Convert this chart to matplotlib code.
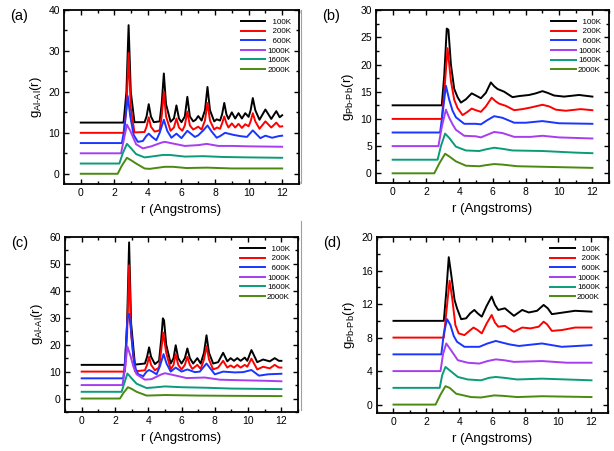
import matplotlib
matplotlib.use('Agg')
import matplotlib.pyplot as plt
from matplotlib.lines import Line2D
from matplotlib.ticker import MultipleLocator

plt.rcParams['font.family'] = ['Liberation Sans', 'DejaVu Sans']
plt.rcParams['mathtext.fontset'] = 'custom'
plt.rcParams['mathtext.rm'] = 'Liberation Sans'
plt.rcParams['mathtext.it'] = 'Liberation Sans:italic'

# Temperatures and colours
temps = ['100K', '200K', '600K', '1000K', '1600K', '2000K']
colors = ['#000000', '#ff0000', '#1a35ff', '#a83cf0', '#0a9c78', '#4a8a10']

# (a) Al-Al, values as plotted (offset curves), pairs of (r, g)
a_100 = [(0,12.5),(2.55,12.5),(2.72,20),(2.85,36.3),(2.98,20),(3.2,12.6),(3.8,12.6),(3.92,14),(4.05,17),(4.18,14),
         (4.35,12.6),(4.7,12.8),(4.82,17),(4.95,24.5),(5.08,17),(5.35,12.7),(5.55,13.5),(5.7,16.7),(5.85,13.5),(6.0,12.6),
         (6.2,14),(6.35,18.8),(6.5,14),(6.7,12.8),(6.85,13.2),(7.0,14.1),(7.2,13),(7.4,15.5),(7.55,21.2),(7.7,15.5),
         (7.95,12.8),(8.1,13.3),(8.3,13),(8.42,14.5),(8.55,17.3),(8.68,14.5),(8.8,13.4),(9.0,15),(9.2,13.5),(9.4,14.8),
         (9.6,13.5),(9.8,14.8),(10.0,13.9),(10.12,15.5),(10.25,18.5),(10.4,15.5),(10.65,13.2),(11.0,15.7),(11.35,13.4),
         (11.65,15.3),(11.85,13.8),(12,14.3)]
a_200 = [(0,10),(2.55,10),(2.72,16),(2.85,29.5),(2.98,16),(3.2,10.1),(3.8,10.2),(3.92,11.5),(4.05,13.8),(4.18,11.5),
         (4.4,10.3),(4.7,10.6),(4.82,14),(4.95,20),(5.08,14),(5.35,10.5),(5.55,11.3),(5.7,13.5),(5.85,11.3),(6.05,10.5),
         (6.2,11.8),(6.35,15.2),(6.5,11.8),(6.7,10.8),(7.0,11.5),(7.2,10.8),(7.4,13),(7.55,17.3),(7.7,13),(7.95,10.8),
         (8.1,11.3),(8.3,11),(8.42,12.3),(8.55,14),(8.68,12.3),(8.8,11.3),(9.0,12.3),(9.2,11.3),(9.4,12.2),(9.6,11.2),
         (9.8,12.1),(10.0,11.6),(10.12,12.8),(10.25,14.8),(10.4,12.8),(10.65,11),(11.0,12.8),(11.35,11.3),(11.65,12.5),
         (11.85,11.5),(12,11.6)]
a_600 = [(0,7.5),(2.45,7.5),(2.6,11),(2.8,19),(2.95,14),(3.15,9.5),(3.4,7.8),(3.7,8),(3.9,9.2),(4.05,9.8),(4.25,9),
         (4.5,8.2),(4.7,10),(4.95,13.2),(5.15,10.5),(5.4,8.8),(5.7,9.8),(6.0,8.7),(6.35,10.5),(6.8,9),(7.0,9.4),(7.3,10.6),
         (7.55,11.8),(7.8,10.3),(8.1,8.8),(8.3,9.2),(8.6,10),(9.1,9.5),(9.5,9.2),(9.9,9),(10.25,10.6),(10.7,8.7),(11.0,9.3),
         (11.4,8.8),(11.8,9.2),(12,9.3)]
a_1000 = [(0,5),(2.4,5),(2.55,8),(2.75,12),(2.95,10.5),(3.3,7.2),(3.7,6.2),(4.2,6.7),(4.8,7.6),(5.0,7.8),(5.6,7.3),
          (6.2,6.8),(7.0,7),(7.5,7.3),(8.2,6.8),(9,6.8),(10,6.7),(12,6.6)]
a_1600 = [(0,2.5),(2.3,2.5),(2.5,5),(2.75,7.3),(3.0,6.2),(3.3,4.8),(3.8,4),(4.2,4.2),(4.9,4.6),(5.3,4.6),(6.2,4.2),
          (7.3,4.3),(8.5,4.1),(10,4),(12,3.9)]
a_2000 = [(0,0),(2.2,0),(2.45,2),(2.75,3.9),(3.0,3.3),(3.3,2.5),(3.8,1.3),(4.1,1.2),(5.0,1.7),(5.5,1.7),(6.3,1.4),
          (7.5,1.5),(9,1.3),(12,1.3)]

# (b) Pb-Pb
b_100 = [(0,12.5),(2.95,12.5),(3.1,18),(3.25,26.6),(3.35,26.4),(3.5,20),(3.7,15.5),(3.9,14),(4.1,13),(4.4,13.6),
         (4.75,14.7),(5.0,14.3),(5.3,13.8),(5.6,14.8),(5.9,16.7),(6.1,16),(6.3,15.5),(6.7,15),(7.2,14),(7.6,14.2),
         (8.2,14.4),(8.6,14.7),(9.0,15.1),(9.3,14.8),(9.7,14.3),(10.3,14.1),(11.2,14.4),(12,14.1)]
b_200 = [(0,10),(2.95,10),(3.1,15),(3.3,23),(3.5,17),(3.7,13.5),(3.9,12),(4.2,10.7),(4.45,11.2),(4.75,11.9),(5.0,11.6),
         (5.3,11.3),(5.6,12.3),(5.95,13.9),(6.2,13.2),(6.4,12.8),(6.8,12.4),(7.3,11.6),(7.8,11.8),(8.3,12.1),(9.0,12.6),
         (9.4,12.3),(9.8,11.7),(10.4,11.5),(11.3,11.8),(12,11.6)]
b_600 = [(0,7.5),(2.85,7.5),(3.0,11),(3.2,16.1),(3.4,13.5),(3.6,11.5),(3.8,10.3),(4.3,9.1),(5.0,9.1),(5.3,9),(5.7,9.8),
         (6.1,10.5),(6.6,10.2),(7.3,9.3),(8,9.3),(9.0,9.6),(10,9.2),(12,9.1)]
b_1000 = [(0,5),(2.75,5),(2.95,8.5),(3.2,11.7),(3.4,10.2),(3.6,9),(3.8,8),(4.3,6.9),(5,6.8),(5.3,6.6),(5.7,7.1),
          (6.1,7.6),(6.6,7.4),(7.3,6.7),(8.3,6.7),(9,6.9),(10,6.6),(12,6.4)]
b_1600 = [(0,2.5),(2.7,2.5),(2.9,5),(3.15,7.3),(3.4,6.5),(3.8,4.9),(4.4,4.2),(5.2,4.1),(5.6,4.4),(6.1,4.7),(6.6,4.5),
          (7.2,4.2),(9,4.1),(11,3.8),(12,3.7)]
b_2000 = [(0,0),(2.5,0),(2.8,1.8),(3.15,3.6),(3.4,3.1),(3.8,2.2),(4.4,1.4),(5.2,1.3),(5.6,1.5),(6.1,1.7),(6.6,1.6),
          (7.5,1.3),(9,1.2),(12,1.0)]

# (c) Al-Al
c_100 = [(0,12.5),(2.6,12.5),(2.73,28),(2.85,58),(2.97,28),(3.2,12.6),(3.8,13),(3.93,15.5),(4.05,19),(4.17,15.5),
         (4.4,12.8),(4.65,14),(4.78,22),(4.88,29.8),(4.95,29),(5.08,20),(5.35,13),(5.52,15),(5.65,19.8),(5.8,15),
         (6.0,13),(6.2,15),(6.35,18.6),(6.5,15),(6.7,13),(6.95,15),(7.15,13),(7.35,17),(7.5,23.5),(7.65,17),(7.9,13),
         (8.2,13.5),(8.5,17),(8.75,13.8),(8.95,15),(9.15,14),(9.35,15),(9.55,14),(9.8,15.2),(9.95,14),(10.2,18),
         (10.55,13.5),(10.9,14.5),(11.3,13.8),(11.6,15),(11.85,14),(12,14)]
c_200 = [(0,10),(2.6,10),(2.73,24),(2.85,49.5),(2.97,24),(3.2,10.1),(3.8,10.5),(3.93,12.5),(4.05,15.5),(4.17,12.5),
         (4.4,10.5),(4.65,11.5),(4.78,18),(4.9,24.5),(5.08,17),(5.35,10.8),(5.52,12.5),(5.65,16.5),(5.8,12.5),(6.0,10.8),
         (6.2,12.5),(6.35,15.5),(6.5,12.5),(6.65,11),(6.95,12.5),(7.15,11),(7.35,14.5),(7.5,19.5),(7.65,14.5),(7.9,10.8),
         (8.2,11.5),(8.5,14),(8.75,11.5),(8.95,12.3),(9.15,11.5),(9.35,12.5),(9.55,11.5),(9.8,12.5),(9.95,11.8),(10.2,14.8),
         (10.55,10.8),(10.9,11.8),(11.3,11.2),(11.6,12.5),(11.85,11.5),(12,11.5)]
c_600 = [(0,7.5),(2.5,7.5),(2.62,15),(2.75,30),(2.85,31.5),(2.97,25),(3.1,16),(3.25,11),(3.4,9),(3.7,8.3),(3.9,10),
         (4.05,10.6),(4.25,10),(4.5,9),(4.7,12),(4.92,16.5),(5.1,13),(5.35,10),(5.65,11.5),(6.0,10),(6.35,10.8),(6.8,9.8),
         (7.1,10),(7.3,11.5),(7.5,13),(7.75,11),(8.0,9),(8.5,10),(9.2,9.7),(9.7,9.8),(10.2,10.6),(10.65,8.5),(11.2,9),
         (12,9.2)]
c_1000 = [(0,5),(2.45,5),(2.58,10),(2.75,19.3),(2.95,15.5),(3.1,12),(3.3,9),(3.8,7),(4.2,7.2),(4.8,9),(5.0,9.4),
          (5.6,8.6),(6.3,7.6),(7.4,7.8),(8.3,7),(9.5,6.8),(11,6.6),(12,6.4)]
c_1600 = [(0,2.5),(2.4,2.5),(2.55,5.5),(2.75,9.3),(3.0,7.5),(3.3,5.5),(3.9,3.9),(4.5,4.2),(5.0,4.5),(6,4.2),(7.5,4),
          (9,3.7),(12,3.5)]
c_2000 = [(0,0),(2.3,0),(2.5,2),(2.78,4.2),(3.0,3.6),(3.3,2.5),(3.9,1.1),(4.5,1.2),(5,1.3),(7,1.1),(9,1.0),(12,0.9)]

# (d) Pb-Pb
d_100 = [(0,10),(3.05,10),(3.2,13.5),(3.35,17.6),(3.5,15.5),(3.7,12.5),(3.85,11.5),(4.1,10.2),(4.4,10.3),(4.65,10.9),
         (4.9,11.3),(5.1,10.9),(5.35,10.5),(5.65,11.8),(5.95,12.9),(6.15,11.9),(6.35,11.3),(6.75,11.5),(7.3,10.6),
         (7.8,11.3),(8.2,11),(8.7,11.2),(9.1,11.9),(9.35,11.5),(9.6,10.8),(10.3,11),(11,11.2),(12,11.1)]
d_200 = [(0,8),(3.05,8),(3.2,11),(3.4,14.8),(3.55,12.8),(3.75,9.5),(3.95,8.5),(4.3,8.3),(4.6,8.8),(4.85,9.2),(5.1,8.9),
         (5.35,8.5),(5.65,9.7),(5.95,10.7),(6.15,9.8),(6.35,9.3),(6.75,9.4),(7.3,8.7),(7.8,9.2),(8.3,9.1),(8.8,9.3),
         (9.1,9.9),(9.3,9.6),(9.6,8.8),(10.2,8.9),(11,9.2),(12,9.2)]
d_600 = [(0,6),(2.9,6),(3.05,8.5),(3.25,10.2),(3.45,9.5),(3.65,8.2),(3.85,7.5),(4.3,6.9),(5.2,6.9),(5.7,7.3),(6.2,7.6),
         (6.6,7.4),(7,7.2),(7.6,7),(9,7.3),(10.2,6.9),(12,7.1)]
d_1000 = [(0,4),(2.85,4),(3.0,6),(3.2,7.3),(3.45,6.6),(3.9,5.3),(4.5,5),(5.2,4.9),(5.7,5.2),(6.2,5.4),(6.7,5.3),
          (7.3,5.1),(9,5.2),(10.5,5),(12,5)]
d_1600 = [(0,2),(2.8,2),(2.95,3.5),(3.15,4.5),(3.4,4.1),(3.9,3.3),(4.5,3),(5.3,2.9),(5.8,3.2),(6.2,3.3),(6.7,3.2),
          (7.5,3),(9,3.1),(12,2.9)]
d_2000 = [(0,0),(2.55,0),(2.85,1.2),(3.15,2.2),(3.4,2.0),(3.8,1.3),(4.7,0.9),(5.3,0.85),(6.1,1.1),(6.6,1.05),(7.5,0.9),
          (9,1),(12,0.9)]

panels = [
    # curves, label, pair, ylim, major, minor, axes rect (fig fraction)
    ([a_100, a_200, a_600, a_1000, a_1600, a_2000], '(a)', ('Al', 'Al'), (-2.5, 40), 10, 5, [0.1042, 0.592, 0.3827, 0.3858]),
    ([b_100, b_200, b_600, b_1000, b_1600, b_2000], '(b)', ('Pb', 'Pb'), (-1.8, 30), 5, 2.5, [0.6124, 0.594, 0.3795, 0.3836]),
    ([c_100, c_200, c_600, c_1000, c_1600, c_2000], '(c)', ('Al', 'Al'), (-5, 60), 10, 5, [0.1059, 0.0865, 0.3795, 0.388]),
    ([d_100, d_200, d_600, d_1000, d_1600, d_2000], '(d)', ('Pb', 'Pb'), (-1, 20), 4, 2, [0.614, 0.0843, 0.3762, 0.390]),
]

fig = plt.figure(figsize=(6.14, 4.51), dpi=100)

for curves, tag, pair, ylim, major, minor, rect in panels:
    ax = fig.add_axes(rect)
    for pts, lab, col in zip(curves, temps, colors):
        r = [p[0] for p in pts]
        g = [p[1] for p in pts]
        # pad the labels so they look right-aligned like the original
        pad = ' ' * (2 * (5 - len(lab)))
        ax.plot(r, g, color=col, lw=1.4, label=pad + lab)
    ax.set_xlim(-1, 13)
    ax.set_ylim(*ylim)
    ax.xaxis.set_major_locator(MultipleLocator(2))
    ax.xaxis.set_minor_locator(MultipleLocator(1))
    ax.yaxis.set_major_locator(MultipleLocator(major))
    ax.yaxis.set_minor_locator(MultipleLocator(minor))
    ax.tick_params(which='both', direction='in', top=True, right=True, labelsize=7.5, width=1.0, pad=3)
    ax.tick_params(which='major', length=3.5)
    ax.tick_params(which='minor', length=2)
    for s in ax.spines.values():
        s.set_linewidth(1.3)
    ax.set_xlabel('r (Angstroms)', fontsize=9.5, labelpad=4)
    ax.set_ylabel('g$_{\\mathrm{%s}\\text{-}\\mathrm{%s}}$(r)' % pair, fontsize=9.5, labelpad=3)
    ax.legend(loc='upper right', frameon=False, fontsize=5.8, handlelength=3.0, handletextpad=0.3,
              labelspacing=0.25, borderaxespad=0.6)
    # panel tag
    x0 = rect[0] - 0.088
    fig.text(x0, rect[1] + rect[3] + 0.003, tag, fontsize=10.5, va='top', ha='left')

# faint separator line between the columns
fig.add_artist(Line2D([0.4905, 0.4905], [0.594, 0.978], color='#a0a0a0', lw=0.8))
fig.add_artist(Line2D([0.4905, 0.4905], [0.09, 0.51], color='#a0a0a0', lw=0.8))

fig.savefig('out.png', dpi=100)
